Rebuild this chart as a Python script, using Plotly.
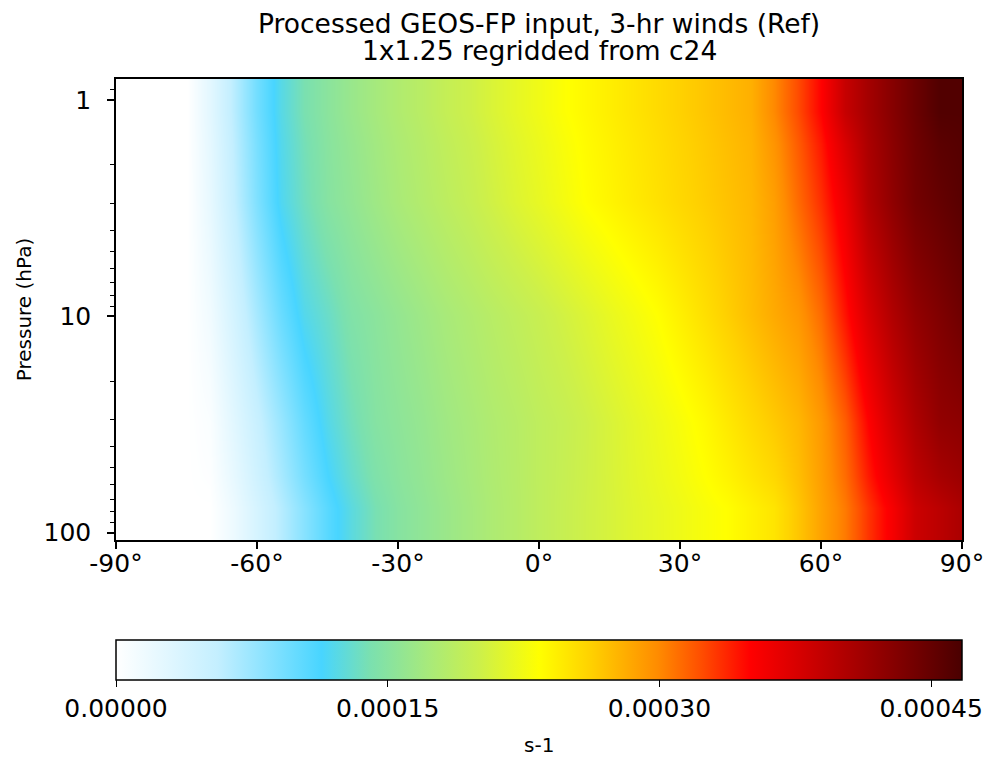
import plotly.graph_objects as go

# ---------------- data (values in 1e-4 s-1) ----------------
latitudes = [-90, -85, -80, -75, -70, -65, -60, -55, -50, -45, -40, -35, -30, -25, -20,
             -15, -10, -5, 0, 5, 10, 15, 20, 25, 30, 35, 40, 45, 50, 55, 60, 65, 70,
             75, 80, 85, 90]

# pressure-level band edges (hPa), top to bottom
pressure_edges = [0.80, 1.6, 5.5, 17.5, 55.0, 108.0]

row_p1 = [0, 0, 0, 0, 0.27, 0.61, 0.94, 1.22, 1.40, 1.52, 1.62, 1.71, 1.79, 1.86, 1.94,
          2.01, 2.09, 2.17, 2.24, 2.32, 2.38, 2.44, 2.50, 2.56, 2.62, 2.68, 2.74, 2.80,
          3.00, 3.24, 3.50, 3.88, 4.10, 4.29, 4.46, 4.62, 4.62]
row_p3 = [0, 0, 0, 0, 0.23, 0.56, 0.88, 1.18, 1.35, 1.49, 1.57, 1.66, 1.74, 1.81, 1.88,
          1.95, 2.03, 2.11, 2.18, 2.26, 2.34, 2.40, 2.46, 2.52, 2.58, 2.64, 2.70, 2.76,
          2.89, 3.12, 3.34, 3.63, 4.01, 4.23, 4.41, 4.50, 4.58]
row_p10 = [0, 0, 0, 0, 0.14, 0.42, 0.70, 0.98, 1.20, 1.32, 1.45, 1.52, 1.59, 1.66, 1.73,
           1.79, 1.85, 1.91, 1.97, 2.04, 2.11, 2.19, 2.26, 2.335, 2.43, 2.53, 2.63, 2.73,
           2.83, 2.93, 3.12, 3.44, 3.76, 4.02, 4.21, 4.33, 4.44]
row_p30 = [0, 0, 0, 0, 0.05, 0.29, 0.52, 0.76, 1.00, 1.21, 1.36, 1.48, 1.54, 1.60, 1.67,
           1.73, 1.79, 1.84, 1.90, 1.95, 2.01, 2.08, 2.15, 2.22, 2.29, 2.37, 2.47, 2.57,
           2.66, 2.76, 2.92, 3.17, 3.50, 3.80, 4.04, 4.21, 4.25]
row_p95 = [0, 0, 0, 0, 0, 0.18, 0.40, 0.62, 0.84, 1.06, 1.24, 1.39, 1.49, 1.56, 1.63,
           1.70, 1.77, 1.83, 1.90, 1.96, 2.02, 2.07, 2.13, 2.18, 2.23, 2.29, 2.34, 2.42,
           2.50, 2.68, 2.87, 3.06, 3.32, 3.56, 3.84, 3.95, 4.06]

value_scale = 1e-4
zmin, zmax = 0.0, 4.67e-4

title_lines = ["Processed GEOS-FP input, 3-hr winds (Ref)", "1x1.25 regridded from c24"]
x_tickvals = [-90, -60, -30, 0, 30, 60, 90]
x_ticktext = ["-90°", "-60°", "-30°", "0°", "30°", "60°", "90°"]
y_tickvals = [1, 10, 100]
y_ticktext = ["1", "10", "100"]
y_minor = [0.8, 0.9, 2, 3, 4, 5, 6, 7, 8, 9, 20, 30, 40, 50, 60, 70, 80, 90]
cb_tickvals = [0.0, 0.00015, 0.00030, 0.00045]
cb_ticktext = ["0.00000", "0.00015", "0.00030", "0.00045"]
cb_title = "s-1"

# WhGrYlRd-like colour scale
colorscale = [
    [0.000, "#ffffff"],
    [0.120, "#c4efff"],
    [0.243, "#48d5ff"],
    [0.300, "#7ae0b0"],
    [0.370, "#a8ea7a"],
    [0.430, "#cdf04a"],
    [0.500, "#ffff00"],
    [0.560, "#ffd200"],
    [0.640, "#ff8c00"],
    [0.690, "#ff5000"],
    [0.750, "#ff0000"],
    [0.875, "#a60000"],
    [1.000, "#4a0000"],
]

z = [[v * value_scale for v in row] for row in (row_p1, row_p3, row_p10, row_p30, row_p95)]

# ---------------- layout geometry ----------------
W, H = 990, 761
L, R, T, B = 116, 962, 79, 540
PH = B - T
FONT = "DejaVu Sans"


def py(pix):
    """pixel row -> paper y"""
    return (B - pix) / PH


fig = go.Figure()
fig.add_trace(go.Heatmap(
    x=latitudes, y=pressure_edges, z=z,
    zmin=zmin, zmax=zmax, colorscale=colorscale, zsmooth="best",
    hoverinfo="skip",
    colorbar=dict(
        orientation="h",
        lenmode="pixels", len=R - L,
        thicknessmode="pixels", thickness=40,
        x=0.5, xanchor="center", xref="paper",
        y=py(640), yanchor="top", yref="paper",
        xpad=0, ypad=0,
        outlinecolor="black", outlinewidth=1.5,
        tickmode="array", tickvals=cb_tickvals, ticktext=cb_ticktext,
        ticks="outside", ticklen=7, tickwidth=1.3, tickcolor="black",
        tickfont=dict(family=FONT, size=25, color="black"),
    ),
))

annotations = [
    dict(text=title_lines[0], x=0.5, xref="paper", xanchor="center",
         y=py(24), yref="paper", yanchor="middle", showarrow=False,
         font=dict(family=FONT, size=26.5, color="black")),
    dict(text=title_lines[1], x=0.5, xref="paper", xanchor="center",
         y=py(51), yref="paper", yanchor="middle", showarrow=False,
         font=dict(family=FONT, size=26.5, color="black")),
    dict(text=cb_title, x=0.5, xref="paper", xanchor="center",
         y=py(745), yref="paper", yanchor="middle", showarrow=False,
         font=dict(family=FONT, size=20, color="black")),
]

fig.update_layout(
    width=W, height=H,
    margin=dict(l=L, r=W - R, t=T, b=H - B, pad=0, autoexpand=False),
    paper_bgcolor="white", plot_bgcolor="white",
    font=dict(family=FONT, color="black"),
    annotations=annotations,
    xaxis=dict(
        range=[-90, 90], tickmode="array", tickvals=x_tickvals, ticktext=x_ticktext,
        ticks="outside", ticklen=7, tickwidth=1.5, tickcolor="black",
        ticklabelstandoff=-7,
        tickfont=dict(family=FONT, size=25, color="black"),
        showline=True, linecolor="black", linewidth=1.5, mirror=True,
        showgrid=False, zeroline=False,
    ),
    yaxis=dict(
        type="log", range=[2.034, -0.096],
        tickmode="array", tickvals=y_tickvals, ticktext=y_ticktext,
        ticks="outside", ticklen=7, tickwidth=1.5, tickcolor="black",
        ticklabelstandoff=11,
        tickfont=dict(family=FONT, size=25, color="black"),
        minor=dict(tickmode="array", tickvals=y_minor, ticks="outside", ticklen=4,
                   tickwidth=1.2, tickcolor="black", showgrid=False),
        showline=True, linecolor="black", linewidth=1.5, mirror=True,
        showgrid=False, zeroline=False,
        title=dict(text="Pressure (hPa)", font=dict(family=FONT, size=20, color="black"),
                   standoff=7),
    ),
)

fig.write_html("out.html", config={"displayModeBar": False},
               post_script="document.body.style.margin='0';document.body.style.padding='0';")
